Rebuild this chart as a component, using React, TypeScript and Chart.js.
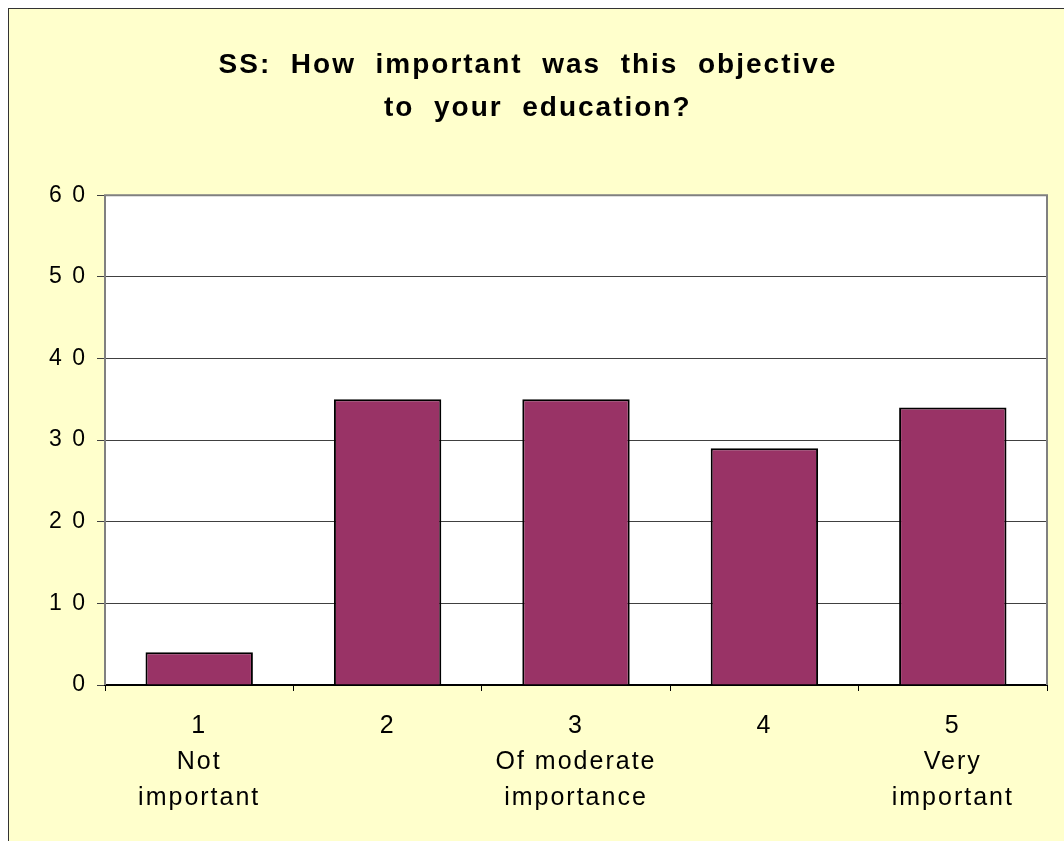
import React, { useEffect, useRef } from "react";
import { Chart, registerables } from "chart.js";

Chart.register(...registerables);

const titleLines = ["SS:  How  important  was  this  objective", "  to  your  education?"];
const categories = ["1", "2", "3", "4", "5"];
const descriptors: string[][] = [["Not", "important"], [], ["Of moderate", "importance"], [], ["Very", "important"]];
const counts = [4, 35, 35, 29, 34];
const yMin = 0;
const yMax = 60;
const yStep = 10;

const FONT = "'Liberation Sans', Arial, sans-serif";

const spacingPlugin = {
  id: "spacing",
  beforeLayout(chart: any) {
    chart.ctx.letterSpacing = "2px";
  },
  beforeDraw(chart: any) {
    const { ctx, chartArea } = chart;
    ctx.letterSpacing = "2px";
    ctx.save();
    ctx.fillStyle = "#ffffff";
    ctx.fillRect(chartArea.left, chartArea.top, chartArea.right - chartArea.left, chartArea.bottom - chartArea.top);
    ctx.restore();
  },
  beforeDatasetsDraw(chart: any) {
    const { ctx, chartArea } = chart;
    ctx.save();
    ctx.strokeStyle = "#808080";
    ctx.lineWidth = 2;
    ctx.beginPath();
    ctx.moveTo(chartArea.left, chartArea.bottom);
    ctx.lineTo(chartArea.left, chartArea.top);
    ctx.lineTo(chartArea.right, chartArea.top);
    ctx.lineTo(chartArea.right, chartArea.bottom);
    ctx.stroke();
    ctx.restore();
  },
};

export default function App() {
  const ref = useRef<HTMLCanvasElement | null>(null);

  useEffect(() => {
    if (!ref.current) return;
    const labels = categories.map((c, i) => [c, ...descriptors[i]]);
    const chart = new Chart(ref.current, {
      type: "bar",
      data: {
        labels,
        datasets: [
          {
            data: counts,
            backgroundColor: "#993366",
            borderColor: "#000000",
            borderWidth: 2,
            barPercentage: 0.57,
            categoryPercentage: 1,
          },
        ],
      },
      options: {
        animation: false,
        responsive: false,
        maintainAspectRatio: false,
        layout: { padding: { left: 0, right: 17, top: 0, bottom: 0 } },
        plugins: {
          legend: { display: false },
          tooltip: { enabled: false },
          title: {
            display: true,
            text: titleLines,
            color: "#000000",
            font: { family: FONT, size: 28, weight: "bold", lineHeight: 1.54 },
            padding: { top: 35, bottom: 65 },
          },
        },
        scales: {
          x: {
            grid: {
              display: true,
              drawOnChartArea: false,
              drawTicks: true,
              tickLength: 6,
              color: "#000000",
              offset: true,
            },
            border: { display: true, color: "#000000", width: 2 },
            ticks: {
              color: "#000000",
              font: { family: FONT, size: 25, lineHeight: 1.44 },
              padding: 17,
              maxRotation: 0,
              autoSkip: false,
            },
            afterFit(scale: any) {
              scale.height = 156;
            },
          },
          y: {
            min: yMin,
            max: yMax,
            grid: {
              color: "#404040",
              lineWidth: 1,
              drawTicks: true,
              tickLength: 8,
            },
            border: { display: false },
            ticks: {
              stepSize: yStep,
              color: "#000000",
              font: { family: FONT, size: 23 },
              padding: 10,
              callback: (v: any) => String(v).split("").join(" "),
            },
            afterFit(scale: any) {
              scale.width = 96;
            },
          },
        },
      },
      plugins: [spacingPlugin],
    });
    return () => chart.destroy();
  }, []);

  return (
    <div style={{ width: 1048, height: 825 }}>
      <div
        style={{
          position: "fixed",
          left: 8,
          top: 8,
          width: 1056,
          height: 833,
          boxSizing: "border-box",
          borderTop: "1px solid #333",
          borderLeft: "1px solid #333",
          background: "#FFFFCC",
        }}
      >
        <canvas ref={ref} width={1055} height={832} style={{ display: "block", width: 1055, height: 832 }} />
      </div>
    </div>
  );
}
